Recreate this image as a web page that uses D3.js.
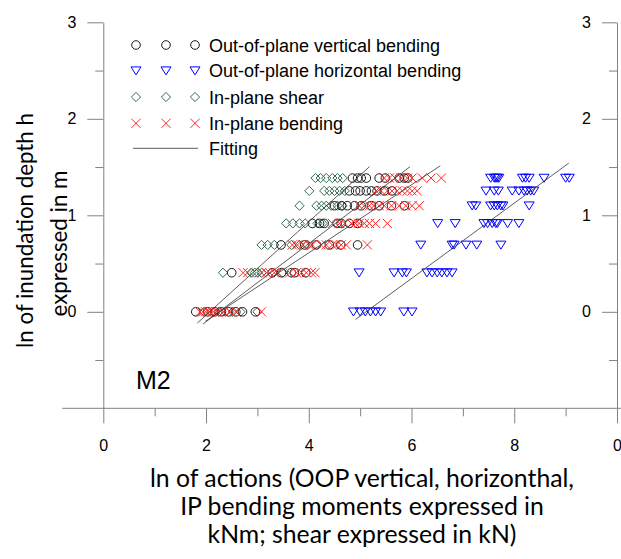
<!DOCTYPE html>
<html><head><meta charset="utf-8">
<script src="https://cdn.jsdelivr.net/npm/d3@7"></script>
<style>body{margin:0;background:#fff}svg{display:block}</style>
</head><body>
<svg id="chart" width="621" height="559"></svg>
<script>
// ---- data (ln values) ----
const rowDepths = [0, 0.405, 0.693, 0.916, 1.099, 1.253, 1.386]; // ln(h) levels

const oopVertical = [
  [1.80, 2.03, 2.17, 2.30, 2.44, 2.58, 2.71, 2.96],
  [2.50, 3.29, 3.47, 3.66, 3.72, 3.94],
  [3.46, 3.92, 4.15, 4.40, 4.62, 4.95],
  [4.07, 4.21, 4.30, 4.55, 4.63, 4.79, 4.95],
  [4.50, 4.64, 4.75, 4.89, 5.02, 5.22, 5.37, 5.61, 5.86],
  [4.79, 4.91, 5.00, 5.12, 5.22, 5.33, 5.47, 5.62],
  [4.85, 4.95, 5.02, 5.12, 5.37, 5.49, 5.76, 5.86, 5.93]
];
const oopHorizontal = [
  [4.87, 5.00, 5.10, 5.20, 5.30, 5.40, 5.85, 6.01],
  [4.98, 5.66, 5.82, 5.90, 6.30, 6.40, 6.50, 6.59, 6.69, 6.79],
  [6.18, 6.79, 6.83, 7.06, 7.27, 7.74],
  [6.51, 6.85, 7.41, 7.48, 7.57, 7.64, 7.67, 7.87, 8.09],
  [7.18, 7.25, 7.54, 7.61, 7.67, 7.74, 7.78, 8.29],
  [7.45, 7.61, 7.69, 7.96, 8.09, 8.19, 8.25, 8.32, 8.38],
  [7.54, 7.61, 7.64, 7.67, 7.70, 8.16, 8.22, 8.29, 8.58, 9.00, 9.07]
];
const ipShear = [
  [1.96, 2.11, 2.25, 2.38, 2.52, 2.67, 3.00],
  [2.33, 2.88, 2.95, 3.01, 3.08, 3.49],
  [3.08, 3.20, 3.33, 3.66, 3.82, 3.97],
  [3.56, 3.69, 3.82, 3.93, 4.17, 4.27],
  [3.82, 4.15, 4.25, 4.34, 4.44, 4.56, 4.65],
  [4.01, 4.30, 4.40, 4.50, 4.60, 4.70],
  [4.13, 4.23, 4.34, 4.46, 4.56, 4.66]
];
const ipBending = [
  [1.88, 1.94, 1.99, 2.07, 2.15, 2.23, 2.34, 2.46, 2.58, 3.08],
  [2.72, 2.81, 3.08, 3.18, 3.24, 3.33, 3.39, 3.63, 3.76, 3.86, 3.95, 4.05, 4.12],
  [3.68, 3.78, 3.88, 4.01, 4.07, 4.24, 4.34, 4.46, 4.54, 4.63, 4.73, 5.14],
  [4.46, 4.60, 4.70, 4.83, 4.91, 4.98, 5.08, 5.18, 5.30, 5.53],
  [4.98, 5.08, 5.18, 5.27, 5.37, 5.47, 5.61, 5.76, 5.89, 6.01, 6.15],
  [5.31, 5.41, 5.53, 5.62, 5.72, 5.82, 5.92, 6.01, 6.11],
  [5.47, 5.57, 5.68, 5.80, 5.92, 6.01, 6.21, 6.38, 6.58]
];
// fitted lines: [x1, y1, x2, y2]
const fitShear      = [1.83, -0.117, 5.18, 1.503];
const fitVertical   = [1.94, -0.127, 5.97, 1.503];
const fitBending    = [1.99, -0.097, 6.56, 1.513];
const fitHorizontal = [4.91, -0.080, 9.06, 1.540];

const seriesNames = ["Out-of-plane vertical bending", "Out-of-plane horizontal bending", "In-plane shear", "In-plane bending", "Fitting"];
const xTickValues = [0, 2, 4, 6, 8, 10];
const xTickLabels = ["0", "2", "4", "6", "8", "0"];
const xMinorTicks = [1, 3, 5, 7, 9];
const yTickValues = [0, 1, 2, 3];
const yTickLabels = ["0", "1", "2", "3"];
const yMinorTicks = [-0.5, 0.5, 1.5, 2.5];
const panelLabel = "M2";
const yTitle = ["ln of inundation depth h", "expressed in m"];
const xTitle = ["ln of actions (OOP vertical, horizonthal,", "IP bending moments expressed in", "kNm; shear expressed in kN)"];

// ---- drawing ----
const svg = d3.select("#chart");
const x = d3.scaleLinear().domain([0, 10]).range([103.3, 617]);
const y = d3.scaleLinear().domain([-1, 3]).range([408.3, 22.3]);
const AX = "#808080";
const SANS = "'Liberation Sans', Arial, sans-serif";
const TITLE = "Lato, 'Open Sans', sans-serif";

function styleAxis(g, keepDomain) {
  g.selectAll("path.domain").attr("stroke", AX).attr("stroke-width", 1);
  if (!keepDomain) g.select("path.domain").remove();
  g.selectAll(".tick line").attr("stroke", AX).attr("stroke-width", 1);
  g.selectAll(".tick text").attr("fill", "#000").style("font-family", SANS).style("font-size", "16px");
}

// extended baseline line
svg.append("line")
  .attr("x1", x(-0.8)).attr("x2", x(10.1)).attr("y1", y(-1)).attr("y2", y(-1))
  .attr("stroke", AX).attr("stroke-width", 1);

// left axis
svg.append("g").attr("transform", `translate(${x(0)},0)`)
  .call(d3.axisLeft(y).tickValues(yTickValues).tickSize(16).tickSizeOuter(0).tickPadding(11)
    .tickFormat((d, i) => yTickLabels[i]))
  .call(g => styleAxis(g, true));
svg.append("g").attr("transform", `translate(${x(0)},0)`)
  .call(d3.axisLeft(y).tickValues(yMinorTicks).tickSize(8).tickFormat(""))
  .call(g => styleAxis(g, false));

// right axis (neighbouring panel)
svg.append("g").attr("transform", `translate(${x(10)},0)`)
  .call(d3.axisLeft(y).tickValues(yTickValues).tickSize(15).tickSizeOuter(0).tickPadding(11)
    .tickFormat((d, i) => yTickLabels[i]))
  .call(g => styleAxis(g, true));
svg.append("g").attr("transform", `translate(${x(10)},0)`)
  .call(d3.axisLeft(y).tickValues(yMinorTicks).tickSize(8).tickFormat(""))
  .call(g => styleAxis(g, false));

// bottom axis
svg.append("g").attr("transform", `translate(0,${y(-1)})`)
  .call(d3.axisBottom(x).tickValues(xTickValues).tickSize(15).tickSizeOuter(0).tickPadding(16)
    .tickFormat((d, i) => xTickLabels[i]))
  .call(g => styleAxis(g, false));
svg.append("g").attr("transform", `translate(0,${y(-1)})`)
  .call(d3.axisBottom(x).tickValues(xMinorTicks).tickSize(8).tickFormat(""))
  .call(g => styleAxis(g, false));

// markers
const shapes = {
  circle: { color: "#1a1a1a", draw: g => g.append("circle").attr("r", 4.3) },
  triangle: { color: "#0000ff", draw: g => g.append("path").attr("d", "M-5,-3.8L5,-3.8L0,4.2Z") },
  diamond: { color: "#336b4b", draw: g => g.append("path").attr("d", "M0,-4.6L4.6,0L0,4.6L-4.6,0Z") },
  cross: { color: "#ff2a2a", draw: g => g.append("path").attr("d", "M-4.6,-4.6L4.6,4.6M-4.6,4.6L4.6,-4.6") }
};
function marker(parent, kind, cx, cy) {
  const s = shapes[kind];
  const g = parent.append("g").attr("transform", `translate(${cx},${cy})`);
  s.draw(g).attr("fill", "none").attr("stroke", s.color).attr("stroke-width", 1);
}
function flatten(rows) {
  const out = [];
  rows.forEach((xs, i) => xs.forEach(v => out.push([v, rowDepths[i]])));
  return out;
}
const plot = svg.append("g");
const seriesList = [
  [ipShear, "diamond"],
  [oopVertical, "circle"],
  [ipBending, "cross"],
  [oopHorizontal, "triangle"]
];
seriesList.forEach(([rows, kind]) => {
  flatten(rows).forEach(([vx, vy]) => marker(plot, kind, x(vx), y(vy)));
});

// fitting lines
[fitShear, fitVertical, fitBending, fitHorizontal].forEach(f => {
  plot.append("line")
    .attr("x1", x(f[0])).attr("y1", y(f[1])).attr("x2", x(f[2])).attr("y2", y(f[3]))
    .attr("stroke", "#333").attr("stroke-width", 0.8);
});

// legend
const legend = svg.append("g");
const legendKinds = ["circle", "triangle", "diamond", "cross"];
const legendRowsY = [45, 70.7, 97, 123.3, 148.3];
const legendMarkX = [136, 166, 195];
legendKinds.forEach((k, i) => {
  legendMarkX.forEach(mx => marker(legend, k, mx, legendRowsY[i]));
});
legend.append("line").attr("x1", 133).attr("x2", 198).attr("y1", legendRowsY[4]).attr("y2", legendRowsY[4])
  .attr("stroke", "#333").attr("stroke-width", 0.8);
seriesNames.forEach((n, i) => {
  legend.append("text").attr("x", 209).attr("y", legendRowsY[i] + 6.5)
    .style("font-family", SANS).style("font-size", "18px").attr("fill", "#000").text(n);
});

// panel label
svg.append("text").attr("x", 136).attr("y", 389).style("font-family", SANS).style("font-size", "25px")
  .attr("fill", "#000").text(panelLabel);

// x title
const xt = svg.append("g");
const xBase = [487, 515, 543];
const xLines = xTitle.map((t, i) => xt.append("text").attr("x", 362).attr("y", xBase[i])
  .attr("text-anchor", "middle").style("font-family", TITLE).style("font-size", "22px").attr("fill", "#000").text(t));
{
  const w = xLines[2].node().getComputedTextLength();
  const fs = 22 * 309 / w;
  xLines.forEach(t => t.style("font-size", fs + "px"));
}

// y title
const yt = svg.append("g");
const yPos = [[33, 230.5], [67, 243.5]];
const yLines = yTitle.map((t, i) => yt.append("text")
  .attr("transform", `translate(${yPos[i][0]},${yPos[i][1]}) rotate(-90)`)
  .attr("text-anchor", "middle").style("font-family", TITLE).style("font-size", "24px").attr("fill", "#000").text(t));
{
  const w = yLines[0].node().getComputedTextLength();
  const fs = 24 * 235 / w;
  yLines.forEach(t => t.style("font-size", fs + "px"));
}
</script>
</body></html>
